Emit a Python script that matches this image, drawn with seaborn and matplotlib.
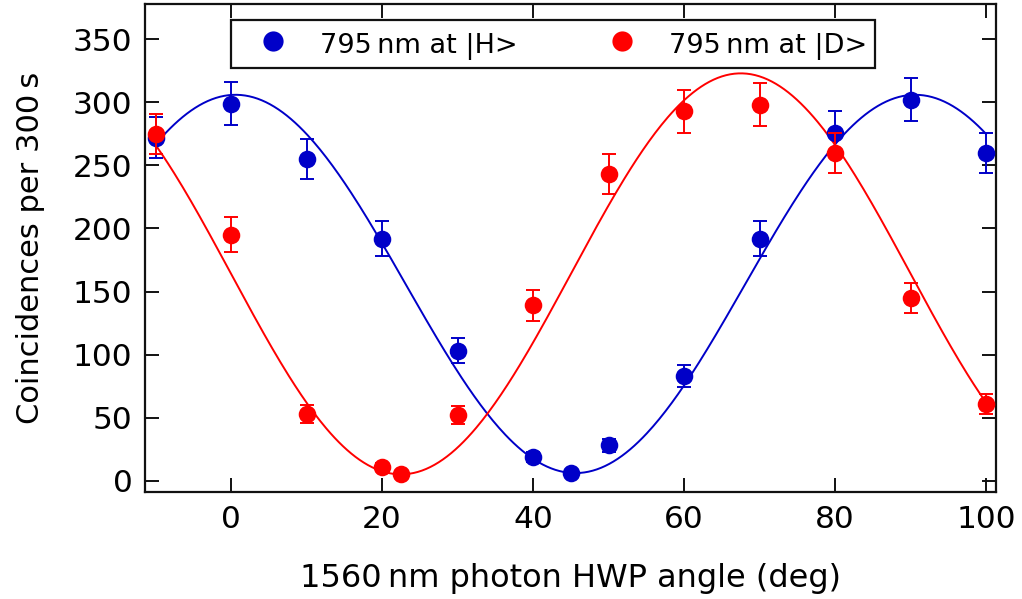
import numpy as np
import pandas as pd
import matplotlib
matplotlib.use("Agg")
import matplotlib.pyplot as plt
import seaborn as sns

# ---- data ----
angle_H = [-10, 0, 10, 20, 30, 40, 45, 50, 60, 70, 80, 90, 100]
counts_H = [272, 299, 255, 192, 103, 19, 6, 28, 83, 192, 276, 302, 260]
err_H = [16, 17, 16, 14, 10, 4, 2, 5, 9, 14, 17, 17, 16]

angle_D = [-10, 0, 10, 20, 22.5, 30, 40, 50, 60, 70, 80, 90, 100]
counts_D = [275, 195, 53, 11, 5, 52, 139, 243, 293, 298, 260, 145, 61]
err_D = [16, 14, 7, 3, 2, 7, 12, 16, 17, 17, 16, 12, 8]

# fitted cos^2 curves (parameters)
fit_H = {"offset": 6, "amplitude": 300, "max_at": 0.6}
fit_D = {"offset": 5, "amplitude": 318, "max_at": 67.5}

label_H = "795\u2009nm at |H>"
label_D = "795\u2009nm at |D>"
xlabel = "1560\u2009nm photon HWP angle (deg)"
ylabel = "Coincidences per 300\u2009s"
xticks = [0, 20, 40, 60, 80, 100]
yticks = [0, 50, 100, 150, 200, 250, 300, 350]

blue = "#0000C8"
red = "#FF0000"


def malus(xs, p):
    return p["offset"] + p["amplitude"] * np.cos(np.radians(2 * (xs - p["max_at"]))) ** 2


sns.set_style("ticks")
plt.rcParams["font.family"] = ["DejaVu Sans"]
plt.rcParams["text.color"] = "black"
plt.rcParams["axes.labelcolor"] = "black"
plt.rcParams["xtick.color"] = "black"
plt.rcParams["ytick.color"] = "black"

fig = plt.figure(figsize=(10.22, 5.99), dpi=100)
ax = fig.add_axes([145 / 1022, 1 - 492 / 599, (996 - 145) / 1022, (492 - 4) / 599])

xs = np.linspace(-10, 100, 400)
dfitH = pd.DataFrame({"x": xs, "y": malus(xs, fit_H)})
dfitD = pd.DataFrame({"x": xs, "y": malus(xs, fit_D)})
sns.lineplot(data=dfitH, x="x", y="y", color=blue, lw=1.4, ax=ax, zorder=2)
sns.lineplot(data=dfitD, x="x", y="y", color=red, lw=1.4, ax=ax, zorder=2)

dfH = pd.DataFrame({"x": angle_H, "y": counts_H})
dfD = pd.DataFrame({"x": angle_D, "y": counts_D})
ax.errorbar(angle_H, counts_H, yerr=err_H, fmt="none", ecolor=blue, elinewidth=1.4,
            capsize=5, capthick=1.4, zorder=3)
sns.scatterplot(data=dfH, x="x", y="y", color=blue, s=160, edgecolor=blue,
                linewidth=0, ax=ax, zorder=4, label=label_H)
ax.errorbar(angle_D, counts_D, yerr=err_D, fmt="none", ecolor=red, elinewidth=1.4,
            capsize=5, capthick=1.4, zorder=5)
sns.scatterplot(data=dfD, x="x", y="y", color=red, s=160, edgecolor=red,
                linewidth=0, ax=ax, zorder=6, label=label_D)

ax.set_xlim(-11.4, 101.3)
ax.set_ylim(-9, 378)
ax.set_xticks(xticks)
ax.set_yticks(yticks)
ax.tick_params(direction="in", length=10, width=1.4, labelsize=22.5, top=True, right=True,
               color="#111111", pad=9)
for s in ax.spines.values():
    s.set_linewidth(1.6)
    s.set_color("#111111")
    s.set_visible(True)
ax.set_xlabel(xlabel, fontsize=23, labelpad=21)
ax.set_ylabel(ylabel, fontsize=22, labelpad=20)

leg = ax.legend(loc="upper left", bbox_to_anchor=(0.101, 0.967),
                ncol=2, fontsize=19.5, frameon=True, fancybox=False,
                borderaxespad=0, handlelength=2.5, handletextpad=0.48, borderpad=0.3,
                handleheight=1.4, markerscale=1.15, columnspacing=2.6)
leg.get_frame().set_edgecolor("#111111")
leg.get_frame().set_linewidth(1.6)
leg.get_frame().set_alpha(1)

fig.savefig("out.png", dpi=100)
